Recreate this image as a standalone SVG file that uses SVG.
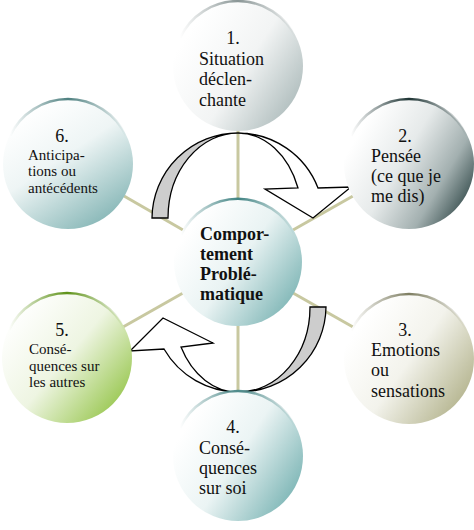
<svg xmlns="http://www.w3.org/2000/svg" width="474" height="530" viewBox="0 0 474 530">
<defs>
<linearGradient id="g1" x1="0.15" y1="0.2" x2="1" y2="0.75"><stop offset="0" stop-color="#ffffff"/><stop offset="0.5" stop-color="#f2f4f4"/><stop offset="1" stop-color="#aebcbc"/></linearGradient>
<linearGradient id="g2" x1="0.15" y1="0.2" x2="1" y2="0.7"><stop offset="0" stop-color="#ffffff"/><stop offset="0.4" stop-color="#e6eaea"/><stop offset="0.75" stop-color="#a3b0b0"/><stop offset="1" stop-color="#405656"/></linearGradient>
<linearGradient id="g6" x1="0.2" y1="0.1" x2="0.8" y2="1"><stop offset="0" stop-color="#ffffff"/><stop offset="0.4" stop-color="#eef5f5"/><stop offset="1" stop-color="#7fb2b2"/></linearGradient>
<linearGradient id="gc" x1="0.15" y1="0.2" x2="1" y2="0.8"><stop offset="0" stop-color="#ffffff"/><stop offset="0.45" stop-color="#e9f3f3"/><stop offset="1" stop-color="#78b2b2"/></linearGradient>
<linearGradient id="g5" x1="0.1" y1="0.15" x2="1" y2="0.9"><stop offset="0" stop-color="#ffffff"/><stop offset="0.45" stop-color="#eef5e2"/><stop offset="1" stop-color="#8cc03a"/></linearGradient>
<linearGradient id="g3" x1="0.15" y1="0.2" x2="1" y2="0.8"><stop offset="0" stop-color="#ffffff"/><stop offset="0.45" stop-color="#f3f3ec"/><stop offset="1" stop-color="#b0b088"/></linearGradient>
<linearGradient id="g4" x1="0.15" y1="0.2" x2="1" y2="0.75"><stop offset="0" stop-color="#ffffff"/><stop offset="0.45" stop-color="#ebf4f4"/><stop offset="1" stop-color="#7ab4b4"/></linearGradient>
<linearGradient id="r1" x1="0" y1="0" x2="1" y2="0"><stop offset="0" stop-color="#8a9696" stop-opacity="0"/><stop offset="0.5" stop-color="#8a9696"/><stop offset="1" stop-color="#8a9696" stop-opacity="0"/></linearGradient>
<linearGradient id="r2" x1="0" y1="0" x2="1" y2="0"><stop offset="0" stop-color="#1e3434" stop-opacity="0"/><stop offset="0.5" stop-color="#1e3434"/><stop offset="1" stop-color="#1e3434" stop-opacity="0"/></linearGradient>
<linearGradient id="r6" x1="0" y1="0" x2="1" y2="0"><stop offset="0" stop-color="#4e8080" stop-opacity="0"/><stop offset="0.5" stop-color="#4e8080"/><stop offset="1" stop-color="#4e8080" stop-opacity="0"/></linearGradient>
<linearGradient id="rc" x1="0" y1="0" x2="1" y2="0"><stop offset="0" stop-color="#3f8282" stop-opacity="0"/><stop offset="0.5" stop-color="#3f8282"/><stop offset="1" stop-color="#3f8282" stop-opacity="0"/></linearGradient>
<linearGradient id="r5" x1="0" y1="0" x2="1" y2="0"><stop offset="0" stop-color="#5e9218" stop-opacity="0"/><stop offset="0.5" stop-color="#5e9218"/><stop offset="1" stop-color="#5e9218" stop-opacity="0"/></linearGradient>
<linearGradient id="r3" x1="0" y1="0" x2="1" y2="0"><stop offset="0" stop-color="#7e7e62" stop-opacity="0"/><stop offset="0.5" stop-color="#7e7e62"/><stop offset="1" stop-color="#7e7e62" stop-opacity="0"/></linearGradient>
<linearGradient id="r4" x1="0" y1="0" x2="1" y2="0"><stop offset="0" stop-color="#4e8a8a" stop-opacity="0"/><stop offset="0.5" stop-color="#4e8a8a"/><stop offset="1" stop-color="#4e8a8a" stop-opacity="0"/></linearGradient>
</defs>
<style>
.conn{stroke:#c8c8a0;stroke-width:3;fill:none}
.rim{fill:none;stroke-width:2.5}
.t{font-family:"Liberation Serif","Times New Roman",serif;font-size:18px;fill:#111}
.s{font-size:15px}
.b{font-weight:bold}
.n{text-anchor:middle}
.arw{stroke:#000;stroke-width:1.3;stroke-linejoin:miter}
.gray{fill:#cdcdcd}
.white{fill:#ffffff}
</style>
<rect width="474" height="530" fill="#ffffff"/>
<g id="connectors">
<line class="conn" x1="238" y1="130" x2="238" y2="199"/>
<line class="conn" x1="238" y1="325" x2="238" y2="392"/>
<line class="conn" x1="293" y1="230" x2="353" y2="196"/>
<line class="conn" x1="183" y1="230" x2="124" y2="196"/>
<line class="conn" x1="183" y1="293" x2="123" y2="327"/>
<line class="conn" x1="293" y1="293" x2="353" y2="327"/>
</g>
<g id="arrows">
<path class="arw gray" d="M152,218 A86,86 0 0 1 238,133 A70,85 0 0 0 168,218 Z"/>
<path class="arw white" d="M238,133 A86,86 0 0 1 318,188 L351,187 L313,218 L265,189 L298,188 A64,85 0 0 0 238,133 Z"/>
<path class="arw gray" d="M326,307 A87,86 0 0 1 239,392 A71,85 0 0 0 310,307 Z"/>
<path class="arw white" d="M239,392 A86,86 0 0 1 164,349 L130,351 L163,318 L213,343 L181,347 A64,85 0 0 0 239,392 Z"/>
</g>
<g id="n1">
<circle cx="238" cy="66" r="65" fill="url(#g1)"/>
<path class="rim" stroke="url(#r1)" d="M180,38 A64,64 0 0 1 296,38"/>
<text class="t n" x="233" y="44">1.</text>
<text class="t" x="199" y="64.5">Situation</text>
<text class="t" x="199" y="85">déclen-</text>
<text class="t" x="199" y="105.5">chante</text>
</g>
<g id="n2">
<circle cx="409" cy="164" r="65" fill="url(#g2)"/>
<path class="rim" stroke="url(#r2)" d="M351,136 A64,64 0 0 1 467,136"/>
<text class="t n" x="405" y="142">2.</text>
<text class="t" x="371" y="162">Pensée</text>
<text class="t" x="371" y="182">(ce que je</text>
<text class="t" x="371" y="202">me dis)</text>
</g>
<g id="n6">
<circle cx="68" cy="164" r="65" fill="url(#g6)"/>
<path class="rim" stroke="url(#r6)" d="M10,136 A64,64 0 0 1 126,136"/>
<text class="t n" x="62" y="142">6.</text>
<text class="t s" x="28" y="159.5">Anticipa-</text>
<text class="t s" x="28" y="176">tions ou</text>
<text class="t s" x="28" y="192.5">antécédents</text>
</g>
<g id="center">
<circle cx="238" cy="262" r="64" fill="url(#gc)"/>
<path class="rim" stroke="url(#rc)" d="M181,235 A63,63 0 0 1 295,235"/>
<text class="t b" x="200" y="239.5">Compor-</text>
<text class="t b" x="200" y="259.5">tement</text>
<text class="t b" x="200" y="280">Problé-</text>
<text class="t b" x="200" y="300">matique</text>
</g>
<g id="n5">
<circle cx="67" cy="358" r="65" fill="url(#g5)"/>
<path class="rim" stroke="url(#r5)" d="M9,330 A64,64 0 0 1 125,330"/>
<text class="t n" x="62" y="336">5.</text>
<text class="t s" x="29" y="354">Consé-</text>
<text class="t s" x="29" y="370.5">quences sur</text>
<text class="t s" x="29" y="387">les autres</text>
</g>
<g id="n3">
<circle cx="409" cy="359" r="65" fill="url(#g3)"/>
<path class="rim" stroke="url(#r3)" d="M351,331 A64,64 0 0 1 467,331"/>
<text class="t n" x="405" y="336">3.</text>
<text class="t" x="371" y="356">Emotions</text>
<text class="t" x="371" y="376">ou</text>
<text class="t" x="371" y="396.5">sensations</text>
</g>
<g id="n4">
<circle cx="238" cy="456" r="65" fill="url(#g4)"/>
<path class="rim" stroke="url(#r4)" d="M180,428 A64,64 0 0 1 296,428"/>
<text class="t n" x="233" y="432.5">4.</text>
<text class="t" x="199" y="454">Consé-</text>
<text class="t" x="199" y="474">quences</text>
<text class="t" x="199" y="494">sur soi</text>
</g>
</svg>
